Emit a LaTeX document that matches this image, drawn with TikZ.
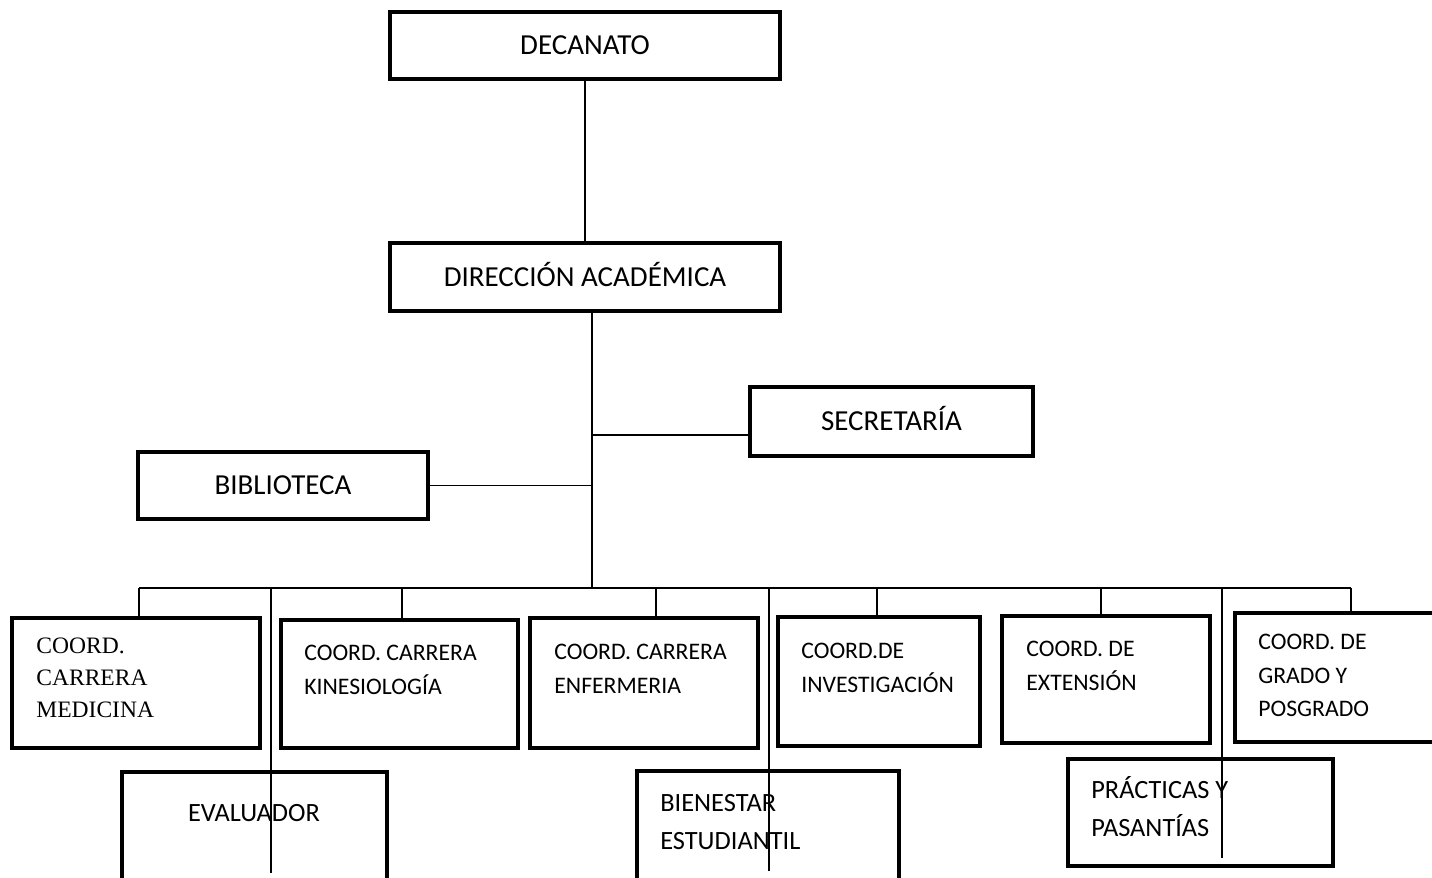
\documentclass[tikz,border=0pt]{standalone}
\usepackage{fontspec}
\setmainfont{Carlito}
\newfontfamily\timesfont{Liberation Serif}
\usetikzlibrary{fit}
\tikzset{
  unitbox/.style={draw,line width=2.3pt,inner sep=0pt},
  link/.style={line width=0.9pt},
  bigtext/.style={inner sep=0pt,text height=10.6pt,text depth=0pt,font=\fontsize{16.5}{20}\selectfont},
  coordtext/.style={anchor=north west,inner sep=0pt,align=left,font=\fontsize{13.5}{19}\selectfont},
  lowtext/.style={anchor=north west,inner sep=0pt,align=left,font=\fontsize{15}{21.5}\selectfont},
}

\begin{document}
\begin{tikzpicture}[x=0.02cm,y=-0.02cm]
  \useasboundingbox (0,0) rectangle (1432,878);
  \fill[white] (0,0) rectangle (1432,878);
  % upper boxes
  \node[unitbox,fit={(390,12) (780,79)}] (dec) {};
  \node[unitbox,fit={(390,243) (780,311)}] (dir) {};
  \node[unitbox,fit={(750,387) (1033,456)}] (sec) {};
  \node[unitbox,fit={(138,452) (428,519)}] (bib) {};
  \node[bigtext] (dec-t) at (dec.center) {DECANATO};
  \node[bigtext] (dir-t) at (dir.center) {DIRECCIÓN ACADÉMICA};
  \node[bigtext] (sec-t) at (sec.center) {SECRETARÍA};
  \node[bigtext] (bib-t) at (bib.center) {BIBLIOTECA};
  % coordinator row
  \node[unitbox,fit={(12,618) (260,748)}] (med) {};
  \node[unitbox,fit={(281,620) (518,748)}] (kin) {};
  \node[unitbox,fit={(530,618) (758,748)}] (enf) {};
  \node[unitbox,fit={(778,617) (980,746)}] (inv) {};
  \node[unitbox,fit={(1002,616) (1210,743)}] (ext) {};
  \node[unitbox,fit={(1235,613) (1450,742)}] (gra) {};
  % lower row
  \node[unitbox,fit={(122,772) (387,892)}] (eva) {};
  \node[unitbox,fit={(637,771) (899,892)}] (bie) {};
  \node[unitbox,fit={(1068,759) (1333,866)}] (pra) {};
  % texts
  \node[coordtext,font=\timesfont\fontsize{13.4}{18.1}\selectfont] (med-t) at (36,638) {COORD.\\CARRERA\\MEDICINA};
  \node[coordtext] (kin-t) at (304,645) {COORD. CARRERA\\KINESIOLOGÍA};
  \node[coordtext] (enf-t) at (554,644) {COORD. CARRERA\\ENFERMERIA};
  \node[coordtext] (inv-t) at (801,643) {COORD.DE\\INVESTIGACIÓN};
  \node[coordtext] (ext-t) at (1026,641) {COORD. DE\\EXTENSIÓN};
  \node[coordtext] (gra-t) at (1258,634) {COORD. DE\\GRADO Y\\POSGRADO};
  \node[lowtext,anchor=north] (eva-t) at (254,804) {EVALUADOR};
  \node[lowtext] (bie-t) at (660,794) {BIENESTAR\\ESTUDIANTIL};
  \node[lowtext] (pra-t) at (1091,776) {PRÁCTICAS Y\\PASANTÍAS};
  % connectors
  \coordinate (bus) at (592,588);
  \draw[link] (dec) -- (dir);
  \draw[link] (dir.south -| bus) -- (bus);
  \draw[link] (bus |- 0,435) -- (sec.west |- 0,435);
  \draw[link] (bib.east) -- (bib.east -| bus);
  \draw[link] (139,588) -- (1351,588);
  \foreach \n/\x in {med/139,kin/402,enf/656,inv/877,ext/1101,gra/1351}
    \draw[link] (\x,588) -- (\n.north -| \x,0);
  \foreach \n/\x/\y in {eva/271/873,bie/769/871,pra/1222/858}
    \draw[link] (\x,588) -- (\x,\y);
\end{tikzpicture}
\end{document}
